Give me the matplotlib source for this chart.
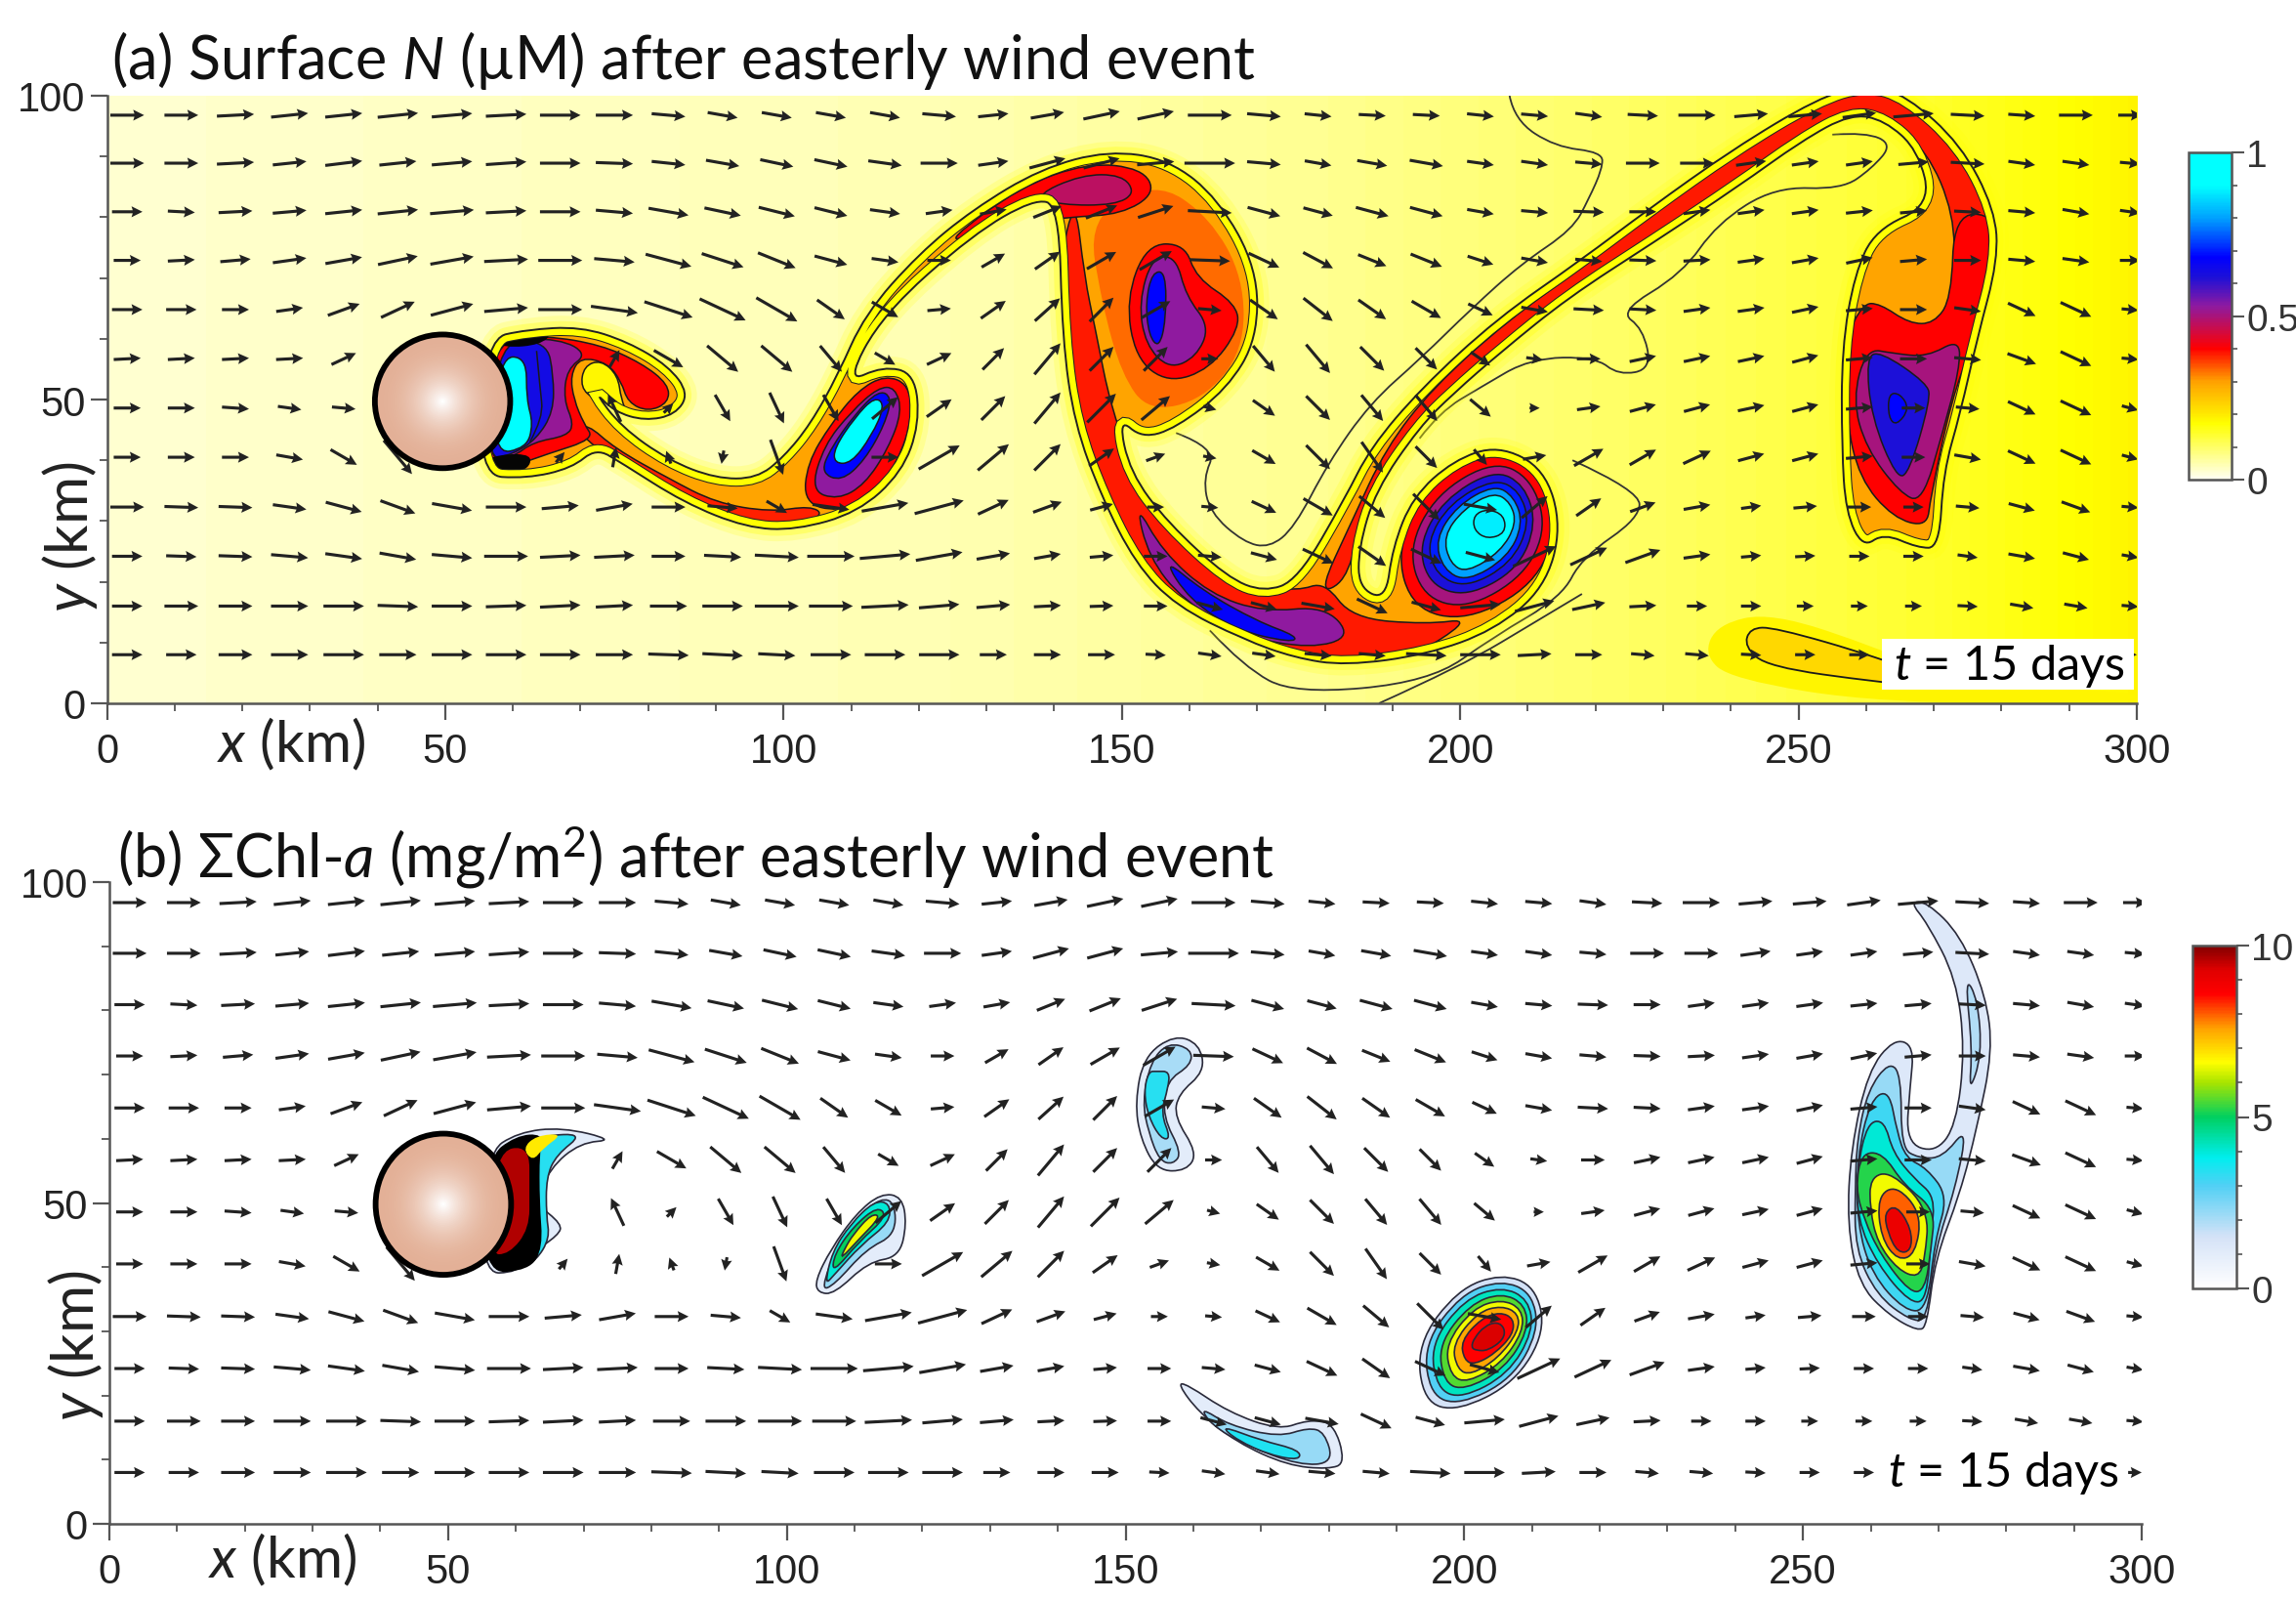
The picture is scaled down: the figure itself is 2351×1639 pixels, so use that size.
import numpy as np
import matplotlib
matplotlib.use('Agg')
import matplotlib.pyplot as plt
from matplotlib.path import Path
from matplotlib.patches import PathPatch, Ellipse, Rectangle
from matplotlib.colors import LinearSegmentedColormap, Normalize
from matplotlib.cm import ScalarMappable
from matplotlib.ticker import MultipleLocator

plt.rcParams['font.family'] = ['Lato', 'DejaVu Sans']
plt.rcParams['mathtext.fontset'] = 'custom'
plt.rcParams['mathtext.rm'] = 'Lato'
plt.rcParams['mathtext.it'] = 'Lato:italic'

nan = float('nan')

# flow arrows (screen angle in degrees, length in km/10)
flow_x = [3 + 8 * i for i in range(38)]
flow_y = [96.8, 88.9, 80.9, 72.9, 64.8, 56.7, 48.6, 40.5, 32.3, 24.2, 16, 8]
flow_angle = [
    [0, 0, 3, 6, 6, 6, 5, 3, 0, 0, -5, -10, -10, -10, -10, -5, 6, 10, 12, 12, 0, -5, -6, -3, -3, -6, -5, -8, -3, 0, 5, 5, 8, 5, -3, -4, 0, 0],
    [0, 0, 3, 6, 7, 6, 5, 4, 0, -2, -6, -10, -12, -12, -8, 0, 8, 15, 15, 5, 0, -5, -10, -10, -10, -8, -8, -5, 0, 0, 8, 8, 8, 5, -3, -8, -8, -5],
    [0, -3, 3, 5, 6, 6, 5, 3, 0, -5, -10, -12, -14, -14, -8, 8, 10, 22, 22, 18, -3, -15, -15, -15, -15, -10, -5, -2, 0, 8, 8, 8, 6, 5, -3, -5, -10, -8],
    [0, 3, 5, 8, 10, 12, 10, 3, 0, -5, -15, -18, -22, -15, -8, 0, 30, 35, 30, 30, -2, -25, -28, -22, -22, -18, -10, -5, -2, 3, 8, 10, 12, 5, 0, -5, -8, 0],
    [0, 0, 0, 8, 20, 25, 15, 5, 0, -8, -18, -25, -30, -35, -30, 5, 35, 42, 45, 30, -5, -35, -38, -35, -30, -25, -10, -3, -3, 8, 8, 12, 5, 0, -8, -25, -25, -5],
    [3, 3, 3, 3, 25, 55, nan, nan, nan, 60, -30, -40, -40, -50, -30, 25, 45, 50, 45, 45, 0, -50, -50, -45, -45, -35, -8, 0, 12, 12, 12, 15, 5, 0, -5, -20, -25, -5],
    [0, 0, -4, -8, -5, nan, nan, nan, nan, 115, 45, -60, -65, -60, 40, 35, 45, 50, 45, 40, -15, -35, -45, -50, -50, -40, 0, 8, 15, 15, 12, 15, 5, 0, -5, -25, -25, -15],
    [0, 0, 0, -10, -30, -50, nan, nan, 50, 80, 110, -100, -70, nan, 0, 30, 40, 45, 35, 20, -10, -30, -45, -55, -45, -50, 10, 30, 30, 25, 15, 15, 5, 0, -10, -25, -25, -15],
    [0, -2, -2, -8, -15, -20, -10, 0, 5, 10, 0, -5, -30, -8, 10, 15, 25, 20, 15, 0, -5, -25, -30, -40, -45, -10, 40, 35, 20, 10, 8, 5, 0, 0, -5, -15, -20, -5],
    [0, -2, -2, -5, -8, -10, -5, 0, 3, 3, 0, -3, -3, 0, 5, 10, 10, 10, 5, 0, -5, -15, -25, -35, -25, -15, 25, 25, 20, 8, 5, 3, 0, 0, -8, -10, -15, -10],
    [0, 0, 0, 0, 0, -2, 0, 2, 3, 3, 0, 0, 0, 0, 3, 5, 5, 3, 2, 0, -15, -15, -10, -25, -15, 5, 15, 12, 3, 0, 0, 0, 0, 0, -3, -10, -10, -5],
    [0, 0, 0, 0, 0, 0, 0, 0, 0, 0, -2, -3, -3, 0, 0, 0, 0, 0, 0, -3, -8, -8, -5, -5, -3, 0, 3, 0, -5, -5, -3, 0, 0, 0, 0, 0, 0, 0],
]
flow_len = [
    [50, 50, 55, 55, 55, 60, 60, 60, 60, 55, 50, 45, 45, 45, 45, 50, 45, 50, 55, 55, 65, 50, 40, 40, 40, 40, 40, 40, 45, 55, 50, 50, 50, 60, 50, 40, 50, 35],
    [50, 50, 55, 50, 55, 55, 60, 60, 60, 55, 50, 50, 50, 50, 50, 55, 45, 55, 55, 55, 75, 50, 40, 45, 50, 40, 40, 40, 50, 50, 45, 40, 40, 45, 50, 40, 40, 30],
    [45, 40, 50, 50, 55, 60, 65, 60, 60, 55, 60, 55, 55, 50, 45, 40, 40, 45, 50, 55, 65, 50, 45, 50, 50, 40, 40, 45, 40, 40, 40, 40, 40, 40, 40, 40, 40, 30],
    [40, 40, 45, 50, 55, 60, 65, 65, 65, 60, 70, 65, 60, 50, 40, 35, 40, 45, 50, 55, 60, 50, 50, 45, 50, 40, 40, 40, 40, 40, 40, 40, 40, 40, 40, 40, 40, 30],
    [45, 45, 40, 40, 50, 55, 65, 65, 65, 70, 75, 75, 70, 50, 45, 35, 45, 50, 50, 50, 35, 50, 55, 50, 50, 40, 40, 45, 40, 40, 40, 40, 40, 40, 40, 45, 50, 25],
    [40, 40, 40, 40, 40, 45, 40, 40, 40, 30, 50, 60, 60, 50, 35, 40, 45, 60, 50, 50, 25, 50, 55, 50, 45, 35, 25, 35, 40, 40, 40, 40, 40, 40, 40, 45, 50, 25],
    [40, 40, 40, 35, 35, 40, 40, 40, 40, 45, 20, 45, 50, 45, 50, 45, 50, 60, 60, 55, 20, 40, 50, 50, 50, 40, 15, 35, 40, 40, 40, 40, 40, 35, 35, 45, 50, 25],
    [40, 40, 40, 40, 45, 65, 40, 40, 20, 30, 20, 20, 55, 40, 40, 70, 60, 55, 45, 30, 20, 40, 50, 55, 45, 30, 35, 50, 45, 45, 40, 40, 40, 35, 40, 45, 50, 25],
    [50, 50, 50, 50, 55, 55, 60, 60, 55, 55, 50, 45, 35, 55, 70, 75, 50, 45, 35, 25, 25, 40, 50, 50, 55, 50, 50, 45, 40, 40, 30, 35, 35, 30, 35, 40, 45, 25],
    [45, 45, 50, 55, 55, 55, 60, 65, 60, 60, 50, 55, 65, 70, 75, 70, 50, 40, 35, 35, 35, 40, 50, 50, 50, 45, 70, 60, 55, 40, 30, 30, 30, 30, 30, 40, 40, 25],
    [45, 50, 50, 55, 60, 60, 60, 60, 60, 55, 55, 60, 65, 65, 70, 60, 50, 40, 35, 35, 40, 40, 50, 50, 45, 60, 60, 50, 40, 30, 30, 25, 25, 25, 30, 35, 35, 25],
    [45, 45, 50, 55, 60, 55, 60, 60, 60, 55, 60, 60, 55, 60, 60, 60, 40, 40, 40, 30, 35, 35, 40, 40, 60, 60, 50, 40, 35, 35, 30, 30, 30, 40, 40, 40, 40, 20],
]

# panel (a): surface N, background across x
bg_x = [0, 60, 120, 180, 230, 270, 300]
bg_n = [0.025, 0.035, 0.045, 0.07, 0.105, 0.14, 0.185]

# panel (a): outline of the whole filament system, km
n_envelope = [
    (56, 60), (62, 61.5), (70, 62), (77, 59.5), (83, 55.5), (86, 51), (84, 47.5), (79.5, 46.5), (75, 48), (72, 51.4),
    (76, 45.5), (83, 40), (90, 37), (96, 37), (100, 40.5), (104, 46), (108, 54), (112, 64), (120, 74), (128, 81.3), (138, 88), (148, 91),
    (157, 89.5), (164.3, 83), (170, 71.5), (170, 60), (165.6, 51.8), (158, 45.3), (153, 43.6), (149.5, 47),
    (151.2, 38), (156.8, 29.7), (165.6, 20.7), (171, 18.3), (176, 20.3), (183, 33.8), (186.7, 42), (194.2, 51.8), (205.4, 63.3),
    (217.9, 73), (227.8, 81.3), (240.3, 91.2), (252.7, 99.5), (260, 102), (266, 100), (274, 92), (279, 81.3), (279.5, 73),
    (276.4, 60), (273.9, 47.7), (271.4, 38), (270.8, 25.6), (267.6, 25.6), (262.6, 28), (259.5, 25.6), (257, 31.4), (256.4, 42),
    (256.4, 58.4), (258.3, 70.7), (261.4, 78), (269.6, 82), (267.7, 91), (262.7, 96), (257.7, 97), (250.5, 92.6), (241, 85),
    (228.5, 75.8), (216, 66.8), (206, 57.8), (199, 51), (194, 45.5), (187.5, 35), (185, 25.6), (185, 19), (189, 17),
    (190, 25.6), (193, 34), (199, 40), (205.6, 42.5), (212.5, 38.6), (215, 29), (212.5, 19), (205, 12), (195, 8), (183, 6.2), (175.5, 7.5),
    (168, 10.5), (158, 16), (152, 23), (147, 34), (143, 46), (141.2, 60), (140.7, 82), (137, 83), (128, 77.2), (114.7, 64.1), (109.2, 52.7),
    (114.7, 55.5), (119.4, 54.3), (120.1, 46), (117.5, 38), (111, 31.4), (101.8, 28.5), (94.5, 28.9), (85.3, 33), (76, 39.6),
    (72.3, 42), (68.7, 38.7), (62, 37), (54.8, 37.5),
]

# panel (a): inner outlines, km
n_wake_red = [(57, 60), (65, 60.5), (73, 59), (79, 56), (83, 52.5), (83, 49.5), (80, 48), (77, 49.5), (76, 53), (74, 56), (70, 57), (68.5, 54), (69, 50), (70.5, 46), (72, 43.5), (65, 41), (60, 39), (55, 39)]
n_wake_purple = [(58, 60), (67, 60), (71, 57.5), (68, 55), (67.5, 50), (69, 46), (68, 44), (63, 43), (60, 40.5), (56, 40)]
n_wake_blue = [(58, 60), (65, 59.5), (66, 54), (66, 48), (63.5, 43.5), (60, 41), (56, 40)]
n_wake_cyan = [(58, 57), (62, 57), (62, 50), (63, 46), (62, 42), (57, 41)]
n_wake_line1 = [(63.5, 58), (64, 52), (64.5, 47), (62.5, 43)]
n_wake_top = [(55, 60), (60, 61), (66, 61), (64, 59), (59, 58.5)]
n_wake_low = [(55, 39.5), (58, 41), (63, 41), (62, 38), (56, 38)]
n_hook_hole = [(70.5, 55.5), (73, 56.5), (75.5, 54), (76, 50), (77, 47.5), (72, 50), (70, 52)]
n_strip_red = [(69, 45), (76, 39), (85, 33), (93, 29.5), (101, 28.5), (106, 31), (104, 32.5), (98, 31.5), (90, 33), (83, 37), (75, 42), (71, 46)]
n_va_red = [(103, 33), (108, 31.5), (113, 34), (117, 40), (119, 47), (118.5, 52.5), (115, 54), (111, 51.5), (107, 46), (103.5, 39.5)]
n_va_purple = [(104, 35), (108, 33.5), (112, 36), (115.5, 42), (117.5, 48), (116.5, 52), (114, 52), (110, 48), (106, 42.5)]
n_va_blue = [(105.5, 38), (108.5, 36.5), (112, 40), (115, 46), (116, 50.5), (114, 51.5), (110.5, 47.5), (107, 42)]
n_va_cyan = [(107.5, 39.5), (110, 39.5), (113, 44), (115, 49), (113.5, 50.5), (110.5, 47), (107.5, 42)]
n_top_red = [(124, 76), (135, 85), (145, 89), (153, 88), (155, 84), (150, 80.5), (142, 80), (135, 79), (128, 77)]
n_top_purple = [(137, 83.5), (144, 87), (150, 87), (152, 84), (149, 82), (141, 82)]
n_mush_deep = [(145, 80), (155, 86), (163, 80), (168, 70), (168, 58), (162, 50), (154, 48), (150, 54), (147, 66)]
n_eye_red = [(153.7, 75.6), (159.3, 75.6), (161, 70), (166.8, 65.8), (167.4, 61.7), (163, 55), (156.8, 52.7), (152, 56.8), (150.6, 66.6)]
n_eye_purple = [(154.5, 73.5), (158, 73.5), (159.5, 67), (163, 62), (161, 57), (157, 55), (153.5, 59), (152.5, 66)]
n_eye_blue = [(154.5, 71), (156.5, 71), (156.5, 63), (155.5, 58.5), (154, 60.5), (153.5, 66)]
n_swoosh_red = [(143, 84), (144.5, 70), (146, 62), (148.5, 48), (152.5, 37), (158, 29), (164, 22.5), (170, 19.5), (176, 18.5), (180, 20), (184, 14), (195, 13), (202, 14), (192, 7), (180, 5.5), (168, 9), (158, 15), (152, 23), (146.5, 35), (142, 50), (140.5, 70)]
n_swoosh_purple = [(152, 33), (156, 25), (163, 18), (171, 15), (180, 16), (184, 11), (178, 9), (168, 11), (159, 17), (154, 24)]
n_swoosh_blue = [(156, 24), (162, 18.5), (170, 13.5), (176, 11), (175, 10), (167, 12), (160, 17)]
n_arch_red = [(179, 18), (184, 30), (189, 42), (196, 52), (207, 63), (219, 72.5), (229, 81), (241, 91), (252, 98), (260, 101), (267, 99), (273, 91), (279, 81), (279, 72), (276, 60), (272, 60), (273, 70), (273, 80.5), (269, 91), (263, 96), (257, 96), (250, 91.5), (240, 83), (228, 73.5), (216, 64), (204, 54.5), (195, 45), (188, 36), (185, 28), (183, 20)]
n_right_red = [(257, 60), (259.5, 65.8), (262, 65.8), (266.4, 62.5), (270, 62.5), (272.6, 66.6), (273, 80.5), (279, 80.5), (279, 73), (276, 60), (272.6, 50), (269.5, 33.8), (269, 29), (264, 30.5), (259, 37), (257, 47)]
n_right_purple = [(258, 50), (260, 58.4), (264, 57.6), (269, 57), (273.8, 60), (273.8, 55), (271.4, 45), (268.3, 33), (265, 34.6), (260, 42)]
n_right_blue = [(260, 56.8), (262, 58), (269, 52.7), (269.5, 50), (266.4, 38), (264.5, 37), (260.8, 47)]
n_right_core = [(263.3, 51), (265, 51), (266.4, 48.5), (264.5, 45.7), (263.3, 47)]
n_vb_red = [(205, 42), (212, 38.5), (214.5, 29), (211, 19.5), (201, 13.5), (193, 15.5), (190.5, 25), (195, 36)]
n_vb_purple = [(205, 40), (210.5, 37), (212.8, 29), (209.5, 21), (201, 15.5), (194.5, 17.5), (192.3, 25.5), (196.5, 34.5)]
n_vb_navy = [(205, 38.5), (209.5, 36), (211.3, 29.5), (208.5, 22), (201, 17.5), (195.5, 19.5), (193.8, 26), (197.5, 33.5)]
n_vb_blue = [(205, 37), (208.8, 35), (210.3, 29.5), (207.5, 23), (201, 19), (196.5, 21), (195, 26.5), (198.5, 33)]
n_vb_sky = [(205, 36), (208, 34), (209.3, 29.5), (207, 24), (201, 20), (197.5, 22), (196.3, 27), (199.5, 32.5)]
n_vb_cyan = [(205, 34.8), (207.5, 33), (208.3, 29.5), (206, 25), (201, 21.5), (198.5, 23), (197.5, 27.5), (200.5, 32)]
n_vb_core = [(204, 32), (206.5, 31), (206.7, 28), (204, 27), (202, 28.5), (202, 31)]
n_south_halo = [(238, 13), (246, 15), (262, 9), (275, 3), (300, 2), (300, 0), (262, 0), (240, 4), (236, 8)]
n_south_blob = [(242.8, 12.4), (246.5, 12.5), (261.7, 7.6), (275, 2), (261.7, 3.5), (245.5, 6), (242, 9.3)]

# panel (a): thin contour lines in the yellow water, km
n_line_west = [(207.3, 100), (208, 96), (214, 91.6), (221, 90.7), (221, 88), (219, 83), (216.6, 78), (209, 72.3), (201.7, 65), (194.2, 56.8), (186.7, 49.4), (180.5, 39.6), (175.5, 28.9), (171.8, 25.6), (168, 26.5), (163, 31.4), (162, 37), (164, 42), (158, 44.5)]
n_line_south = [(216.6, 40), (226.5, 35), (226.5, 30.5), (218, 24), (215, 17.5), (205, 11), (195.5, 3.5), (175.5, 1.5), (168, 6), (163, 12)]
n_line_south2 = [(188, 0), (200, 6), (212, 14), (218, 18)]
n_line_east = [(194, 43.6), (197, 48), (203, 52), (210.4, 56.8), (220, 57), (223.4, 54), (228.3, 55), (227, 61.7), (223.5, 64.5), (232.8, 70.7), (238, 79), (246.5, 85), (256.4, 84.6), (260.8, 88), (263.9, 92), (260, 94), (255, 93.6)]

# panel (b): chlorophyll outlines, km
c_eye_1 = [(157.2, 76.2), (160.9, 74.8), (161.7, 70.5), (157.8, 67), (157.2, 63.4), (160.6, 57.8), (159, 55), (154.7, 55), (152.2, 60), (151.4, 65.7), (152.7, 72.8)]
c_eye_2 = [(156.3, 75), (159.7, 74), (159.7, 71.5), (156, 69), (155.5, 63.4), (158.3, 57.8), (157, 56), (155, 56.6), (153.4, 61), (152.5, 65.7), (153.7, 72)]
c_eye_3 = [(154.6, 70.5), (156.5, 70.5), (156.3, 68), (155.2, 64), (156.7, 60), (155.2, 60), (153.4, 63.4), (152.7, 67.3), (153.4, 70.5)]
c_va_1 = [(104.6, 36), (107, 35.8), (112, 40.8), (116.6, 41.6), (117.7, 46.7), (117, 51), (113.9, 51.5), (110.2, 48.3), (106.5, 42.8), (104.2, 37.9)]
c_va_2 = [(105, 36.4), (107, 37.2), (111.7, 42.8), (116, 45), (116, 50), (113.9, 50.8), (110.6, 47.9), (107.4, 43.2)]
c_va_3 = [(105.6, 37.2), (107, 38.8), (111, 43.5), (115.2, 47), (115.2, 50), (112.9, 50.3), (109.4, 46.7), (106.7, 42.4)]
c_va_4 = [(106.7, 39), (110.6, 43.9), (114.8, 47.9), (113.4, 49.5), (109.8, 46.3), (107, 42)]
c_va_5 = [(107.9, 41.2), (110.6, 44.3), (113.9, 47.9), (112.5, 48.3), (109.8, 45.1), (108.5, 42.8)]
c_vb_1 = [(205.5, 39), (210.5, 37), (212, 30), (207.5, 22), (199, 17.5), (194, 19), (193, 28), (199, 36.5)]
c_vb_2 = [(205.5, 38), (210, 36), (211, 30), (207, 22.5), (199.3, 18.5), (195, 20), (194, 28), (199.5, 35.8)]
c_vb_3 = [(205.5, 37), (209.5, 35), (210.2, 30), (206.5, 23.3), (199.6, 19.5), (196, 21), (195, 28), (200, 35)]
c_vb_4 = [(205.5, 36), (209, 34.2), (209.4, 30), (206, 24.2), (200, 20.8), (197, 22), (196.2, 28), (200.8, 34.2)]
c_vb_5 = [(205.5, 35), (208.5, 33.5), (208.7, 30), (205.5, 25), (200.5, 22), (198, 23), (197.2, 28), (201.3, 33.6)]
c_vb_6 = [(205.5, 34), (208, 32.8), (208, 30), (205, 25.8), (201, 23.2), (199, 24), (198.2, 28), (202, 33)]
c_vb_7 = [(205.3, 33), (207.3, 32), (207.2, 29.5), (204.5, 26.5), (201.5, 24.8), (200, 25.5), (199.5, 28.5), (202.5, 32)]
c_vb_8 = [(204.8, 31.5), (206, 30.5), (205.8, 28.7), (203.5, 27), (201.8, 27), (201, 27.5), (201.5, 29), (203, 30.8)]
c_south_1 = [(157.7, 21.8), (159, 21.8), (165.2, 17.4), (172.6, 14.6), (176.9, 16.2), (180.7, 15.8), (182.5, 9.5), (180, 8.5), (173.9, 9.1), (166.4, 12.7), (160.8, 17.4)]
c_south_2 = [(161, 18.2), (165.2, 15.4), (172.6, 13.5), (177, 15), (179.4, 14.3), (180.7, 9.5), (175.7, 9.1), (167.6, 12.3), (162.7, 15.4)]
c_south_3 = [(163.9, 15.4), (170, 13), (175.7, 11.5), (175.7, 9.9), (171.4, 10.7), (166.5, 13)]
c_right_1 = [(265.8, 96.9), (268.3, 96.9), (273.2, 91.8), (277, 82.3), (278, 73.6), (275.7, 61.8), (273.2, 51.5), (269.5, 41.2), (268.3, 30.9), (267, 30), (262.7, 32.5), (258.3, 37.2), (256.5, 46.7), (257.1, 58.6), (259.6, 70.5), (263.4, 75.6), (266.4, 74.5), (265.8, 68), (265.2, 59.4), (269.5, 57.8), (272.6, 62), (273.9, 73.9), (272.6, 85), (268.3, 93.7)]
c_right_arm = [(273.9, 85.4), (275.8, 81.7), (276.4, 73), (274.5, 67), (275, 74)]
c_right_2 = [(258, 60), (259.6, 67.6), (262.7, 72), (264.5, 70), (264.5, 58.6), (267, 57), (270.6, 57), (274.3, 62), (272.5, 52.3), (269.5, 42.8), (268.3, 31.7), (265.8, 31.7), (260.9, 35.6), (257.7, 42.8), (257.7, 52.3)]
c_right_3 = [(258, 57), (259.9, 66), (262.7, 67.7), (263.9, 61), (265.2, 57), (268.3, 55.4), (271.4, 51), (269.5, 44.3), (268.3, 33.2), (265, 33.2), (260.2, 38.8), (258, 46.7)]
c_right_4 = [(258, 55.4), (259.5, 62.5), (262, 62.9), (263.3, 57.8), (266.4, 53.8), (269.5, 51), (268.9, 45), (268.3, 34.8), (265.8, 34.4), (261, 40.4), (258, 47.5)]
c_right_5 = [(257.8, 52.3), (258.6, 57.8), (261.8, 57.8), (264.9, 52.8), (269.5, 49), (268.9, 42.8), (268, 36.4), (265.8, 36), (261.4, 42), (259, 47.5)]
c_right_6 = [(259.9, 54), (263, 54.9), (268.6, 49), (268, 41.2), (267, 38.3), (264, 39.6), (261, 43.8), (259.9, 49)]
c_right_7 = [(261, 51), (263.8, 52.8), (267.5, 48.3), (266.6, 42), (264, 41), (261.5, 44.6)]
c_right_8 = [(262, 48.5), (263.8, 49.7), (266, 46), (266, 42.5), (264, 42.2), (262.5, 45.4)]
c_wake_pale = [(55.7, 57.8), (60.3, 61), (66.8, 61.8), (74.6, 59.8), (69.5, 59.4), (65, 55.4), (63, 49.9), (66.8, 46.7), (66.3, 45), (62.1, 42), (60.3, 39.2), (54.8, 39)]
c_wake_cyan = [(62, 59), (64, 60.5), (70, 60.8), (66, 57.5), (64.5, 54), (64.5, 48), (65, 44.5), (63, 41), (60.5, 40), (61, 50)]
c_wake_yellow = [(61, 58.5), (63, 60.5), (67, 60.8), (64, 58.5), (62.5, 56.5)]
c_wake_black = [(55.7, 57), (60, 60.5), (64, 60.8), (63.5, 58), (63.5, 50), (64, 43), (62, 39.5), (55, 39)]
c_wake_red = [(57, 58), (62, 59), (62, 52), (62, 46), (59, 42), (56, 42)]

n_ticks = [0, 0.5, 1]
c_ticks = [0, 5, 10]

n_cmap = LinearSegmentedColormap.from_list('n', [(0, '#FFFFF2'), (0.17, '#FFFF00'), (0.3, '#FFA000'), (0.4, '#FF0000'), (0.53, '#8E1AA0'), (0.62, '#1C10D8'), (0.68, '#0000FF'), (0.8, '#00A0FF'), (0.9, '#00FFFF'), (1, '#00FFFF')])
c_cmap = LinearSegmentedColormap.from_list('c', [(0, '#FFFFFF'), (0.15, '#D4E2F7'), (0.3, '#50D0F5'), (0.38, '#00EEEE'), (0.5, '#00D060'), (0.6, '#A8E400'), (0.66, '#FFFF00'), (0.76, '#FFA000'), (0.86, '#FF0000'), (0.93, '#E00000'), (1, '#800000')])

W, H = 2351, 1640
fig = plt.figure(figsize=(W / 100, H / 100), dpi=100)
tick_font = ['Liberation Sans Narrow', 'Liberation Sans']


def axes_px(x0, y0, x1, y1):
    return fig.add_axes([x0 / W, 1 - y1 / H, (x1 - x0) / W, (y1 - y0) / H])


def smooth(pts, closed=True):
    p = np.array(pts, float)
    if closed:
        start = (p[-1] + p[0]) / 2
        verts, codes = [start], [Path.MOVETO]
        for i in range(len(p)):
            verts += [p[i], (p[i] + p[(i + 1) % len(p)]) / 2]
            codes += [Path.CURVE3, Path.CURVE3]
    else:
        verts, codes = [p[0]], [Path.MOVETO]
        for i in range(1, len(p) - 1):
            end = (p[i] + p[i + 1]) / 2 if i < len(p) - 2 else p[-1]
            verts += [p[i], end]
            codes += [Path.CURVE3, Path.CURVE3]
    return Path(verts, codes)


def level(ax, pts, color, clip=None, lw=1.1, ec='#1a1a1a', z=3):
    pa = PathPatch(smooth(pts), fc=color, ec=ec, lw=lw, zorder=z)
    ax.add_patch(pa)
    if clip is not None:
        pa.set_clip_path(clip)
    return pa


def style_axes(ax):
    ax.set_xlim(0, 300)
    ax.set_ylim(0, 100)
    for s in ['top', 'right']:
        ax.spines[s].set_visible(False)
    for s in ['left', 'bottom']:
        ax.spines[s].set_color('#555555')
        ax.spines[s].set_linewidth(1.8)
        ax.spines[s].set_zorder(9)
    ax.set_xticks([0, 50, 100, 150, 200, 250, 300])
    ax.set_yticks([0, 50, 100])
    ax.xaxis.set_minor_locator(MultipleLocator(10))
    ax.yaxis.set_minor_locator(MultipleLocator(10))
    ax.tick_params(which='major', length=12, width=1.6, color='#555555', labelsize=30, pad=9,
                   labelfontfamily=tick_font, labelcolor='#222222')
    ax.tick_params(axis='y', which='major', pad=4)
    ax.tick_params(which='minor', length=6, width=1.3, color='#555555')


def arrows(ax):
    ang = np.radians(np.array(flow_angle, float))
    ln = np.array(flow_len, float) / 10
    X, Y = np.meshgrid(flow_x, flow_y)
    ax.quiver(X, Y, ln * np.cos(ang), ln * np.sin(ang), angles='uv', scale_units='x', scale=1,
              pivot='mid', units='width', width=0.0015, headwidth=3.6, headlength=3.6, headaxislength=3.2,
              color='#222222', zorder=6)


def cylinder(ax, cx, cy):
    for r, t in zip(np.linspace(1, 0.02, 40), np.linspace(0, 1, 40)):
        rgb = (1 - t**2.2) * np.array([0.89, 0.69, 0.59]) + t**2.2 * np.array([1, 1, 1])
        ax.add_patch(Ellipse((cx, cy), 20 * r, 22 * r, fc=rgb, ec='none', zorder=7))
    ax.add_patch(Ellipse((cx, cy), 20, 22, fc='none', ec='black', lw=4.2, zorder=8))


def colorbar(ax, cmap, vmax, ticks, labels, step):
    sm = ScalarMappable(Normalize(0, vmax), cmap)
    cb = fig.colorbar(sm, cax=ax, ticks=ticks)
    cb.outline.set_edgecolor('#555555')
    cb.outline.set_linewidth(1.8)
    cb.ax.set_yticklabels(labels)
    cb.ax.yaxis.set_minor_locator(MultipleLocator(step))
    cb.ax.tick_params(which='major', length=9, width=1.5, color='#555555', labelsize=28, pad=2,
                      labelfontfamily=tick_font, labelcolor='#333333')
    cb.ax.tick_params(which='minor', length=4, width=1.2, color='#555555')


# panel (a)
ax = axes_px(109.5, 99, 2188, 721)
bg_fine = np.linspace(0, 300, 301)
bg_row = np.interp(bg_fine, bg_x, bg_n)
ax.imshow(bg_row[None, :], extent=[0, 300, 0, 100], aspect='auto', cmap=n_cmap, vmin=0, vmax=1, zorder=0, interpolation='bilinear')
style_axes(ax)

level(ax, n_south_halo, n_cmap(0.185), lw=0, ec='none', z=1)
level(ax, n_south_blob, n_cmap(0.225), z=1, lw=1.3)
for line in [n_line_west, n_line_south, n_line_south2, n_line_east]:
    ax.add_patch(PathPatch(smooth(line, closed=False), fc='none', ec='#333333', lw=1.3, zorder=1.5))

# soft halo round the filaments
for lw, a in [(18, 0.18), (10, 0.3)]:
    ax.add_patch(PathPatch(smooth(n_envelope), fc='none', ec=n_cmap(0.17), lw=lw, alpha=a, zorder=1.8))

base = level(ax, n_envelope, n_cmap(0.295), lw=0, ec='none', z=2)
level(ax, n_mush_deep, n_cmap(0.335), clip=base, z=2.1, lw=0, ec='none')
inner = [
    (n_arch_red, 0.385), (n_swoosh_red, 0.385), (n_strip_red, 0.38), (n_top_red, 0.4), (n_top_purple, 0.48),
    (n_wake_red, 0.4), (n_hook_hole, 0.18), (n_wake_purple, 0.52), (n_wake_blue, 0.64), (n_wake_cyan, 0.92),
    (n_va_red, 0.4), (n_va_purple, 0.53), (n_va_blue, 0.68), (n_va_cyan, 0.92),
    (n_eye_red, 0.4), (n_eye_purple, 0.53), (n_eye_blue, 0.68),
    (n_swoosh_purple, 0.53), (n_swoosh_blue, 0.67),
    (n_right_red, 0.4), (n_right_purple, 0.5), (n_right_blue, 0.62), (n_right_core, 0.68),
    (n_vb_red, 0.4), (n_vb_purple, 0.5), (n_vb_navy, 0.62), (n_vb_blue, 0.7), (n_vb_sky, 0.8), (n_vb_cyan, 0.9), (n_vb_core, 0.88),
]
for pts, val in inner:
    level(ax, pts, n_cmap(val), clip=base, z=2.2)
level(ax, n_wake_top, '#050505', clip=base, z=2.3, lw=0, ec='none')
level(ax, n_wake_low, '#050505', clip=base, z=2.3, lw=0, ec='none')
ax.add_patch(PathPatch(smooth(n_wake_line1, closed=False), fc='none', ec='#1a1a1a', lw=1.1, zorder=2.3))

# rim of the filaments: strokes of the outline, clipped to its inside
for lw, col in [(12, '#222222'), (10.5, n_cmap(0.17))]:
    st = PathPatch(smooth(n_envelope), fc='none', ec=col, lw=lw, zorder=2.6)
    ax.add_patch(st)
    st.set_clip_path(base)
ax.add_patch(PathPatch(smooth(n_envelope), fc='none', ec='#222222', lw=1.4, zorder=2.7))

arrows(ax)
cylinder(ax, 49.6, 49.7)
ax.add_patch(Rectangle((262.3, 2.2), 37.2, 8.4, fc='white', ec='none', zorder=6.5))
ax.text(264, 6.3, r'$\mathit{t}$ = 15 days', fontsize=35, va='center', ha='left', zorder=7)
fig.text(114 / W, 1 - 62 / H, r'(a) Surface $\mathit{N}$ (µM) after easterly wind event', fontsize=44, va='center', ha='left', color='#111111')
fig.text(222 / W, 1 - 762 / H, r'$\mathit{x}$ (km)', fontsize=42, va='center', ha='left', color='#222222')
fig.text(72 / W, 1 - 550 / H, r'$\mathit{y}$ (km)', fontsize=43, va='center', ha='center', rotation=90, color='#222222')

cax = axes_px(2241, 157, 2285, 492)
colorbar(cax, n_cmap, 1, n_ticks, ['0', '0.5', '1'], 0.1)

# panel (b)
ax = axes_px(112, 904, 2193, 1561)
style_axes(ax)
layers = [
    (c_eye_1, 1.0), (c_eye_2, 2.0), (c_eye_3, 3.4),
    (c_va_1, 1.0), (c_va_2, 2.2), (c_va_3, 4.0), (c_va_4, 5.0), (c_va_5, 6.5),
    (c_vb_1, 1.5), (c_vb_2, 3.0), (c_vb_3, 4.2), (c_vb_4, 5.5), (c_vb_5, 6.5), (c_vb_6, 7.5), (c_vb_7, 8.6), (c_vb_8, 9.3),
    (c_south_1, 1.0), (c_south_2, 2.2), (c_south_3, 3.5),
    (c_right_1, 1.2), (c_right_arm, 1.9), (c_right_2, 2.2), (c_right_3, 3.2), (c_right_4, 4.0), (c_right_5, 5.2), (c_right_6, 6.5), (c_right_7, 8.0), (c_right_8, 9.0),
    (c_wake_pale, 1.0), (c_wake_cyan, 3.4),
]
for pts, val in layers:
    level(ax, pts, c_cmap(val / 10), z=3, lw=1.2, ec='#2a2a3a')
level(ax, c_wake_black, 'black', z=3.1, lw=0)
level(ax, c_wake_yellow, c_cmap(0.68), z=3.2, lw=0, ec='none')
level(ax, c_wake_red, '#B00000', z=3.2, lw=0, ec='none')
arrows(ax)
cylinder(ax, 49.3, 49.8)
ax.text(262.5, 8, r'$\mathit{t}$ = 15 days', fontsize=35, va='center', ha='left', zorder=7,
        bbox=dict(fc='white', ec='none', pad=1))
fig.text(120 / W, 1 - 878 / H, r'(b) ΣChl-$\mathit{a}$ (mg/m$^{2}$) after easterly wind event', fontsize=44, va='center', ha='left', color='#111111')
fig.text(213 / W, 1 - 1597 / H, r'$\mathit{x}$ (km)', fontsize=42, va='center', ha='left', color='#222222')
fig.text(78 / W, 1 - 1378 / H, r'$\mathit{y}$ (km)', fontsize=43, va='center', ha='center', rotation=90, color='#222222')

cax = axes_px(2245, 969, 2290, 1320)
colorbar(cax, c_cmap, 10, c_ticks, ['0', '5', '10'], 1)

fig.savefig('out.png', dpi=100)
